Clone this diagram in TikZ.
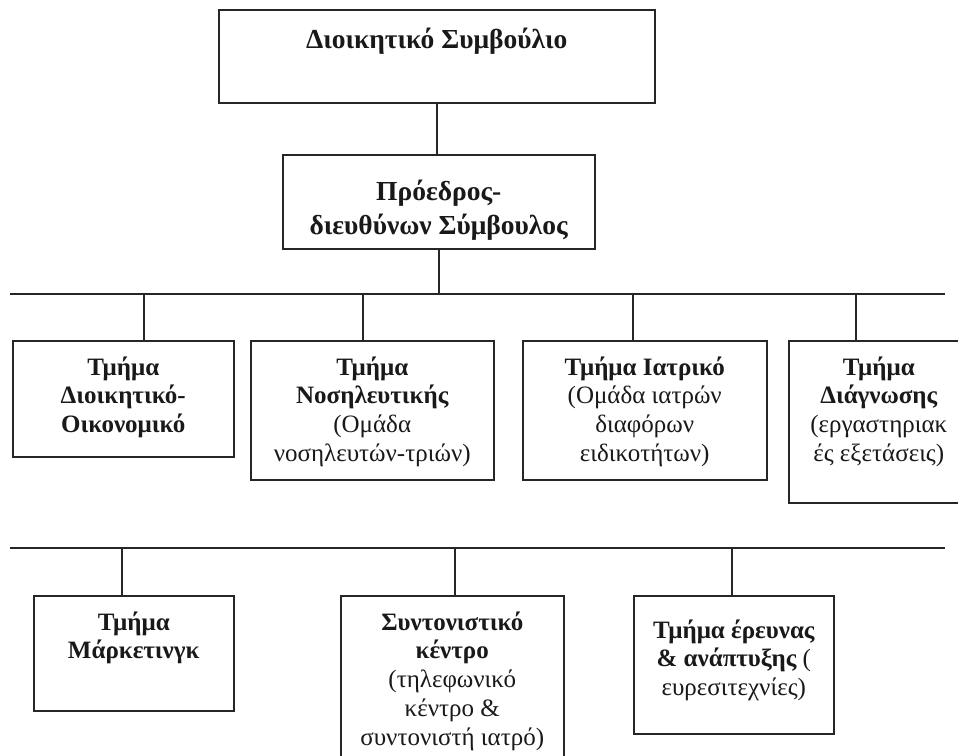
\documentclass[tikz,border=0pt]{standalone}
\usepackage{fontspec}
\setmainfont{Liberation Serif}
\newcommand{\fl}{\rule{0pt}{20pt}}
\newcommand{\flb}{\rule{0pt}{24pt}}
\tikzset{
  frame/.style={draw=black!85, line width=1.5pt, anchor=north west, inner sep=0pt},
  conn/.style={draw=black!85, line width=1.5pt},
  rowtxt/.style={anchor=north, inner sep=0pt, align=center, text=black!90, font=\fontsize{25}{28.7}\selectfont},
  toptxt/.style={anchor=north, inner sep=0pt, align=center, text=black!90, font=\fontsize{27.5}{34}\selectfont\bfseries},
}
\begin{document}
\begin{tikzpicture}[x=1pt,y=-1pt]
\clip (0,0) rectangle (958,755);
\fill[white] (0,0) rectangle (958,755);
% top
\node[frame, minimum width=436pt, minimum height=93pt] (board) at (218,9) {};
\node[toptxt] (boardt) at ([yshift=-15pt]board.north) {\flb Διοικητικό Συμβούλιο};
\node[frame, minimum width=312pt, minimum height=94pt] (ceo) at (282,154) {};
\node[toptxt] (ceot) at ([yshift=-22pt]ceo.north) {\flb Πρόεδρος-\\διευθύνων Σύμβουλος};
% bus 1
\coordinate (bus1l) at (10,294);
\coordinate (bus1r) at (945,294);
\coordinate (bus1c) at (ceo.south |- bus1l);
\draw[conn] (board.south) -- (board.south |- ceo.north);
\draw[conn] (ceo.south) -- (bus1c);
\draw[conn] (bus1l) -- (bus1r);
% row 1
\node[frame, minimum width=221pt, minimum height=116pt] (adm) at (12,340) {};
\node[rowtxt] (admt) at ([yshift=-15pt]adm.north) {\fl\bfseries Τμήμα\\\bfseries Διοικητικό-\\\bfseries Οικονομικό};
\node[frame, minimum width=243pt, minimum height=139pt] (nur) at (250,340) {};
\node[rowtxt] (nurt) at ([yshift=-15pt]nur.north) {\fl\bfseries Τμήμα\\\bfseries Νοσηλευτικής\\(Ομάδα\\νοσηλευτών-τριών)};
\node[frame, minimum width=244pt, minimum height=139pt] (med) at (522,340) {};
\node[rowtxt] (medt) at ([yshift=-15pt]med.north) {\fl\bfseries Τμήμα Ιατρικό\\(Ομάδα ιατρών\\διαφόρων\\ειδικοτήτων)};
\node[frame, minimum width=180pt, minimum height=162pt] (dia) at (788,340) {};
\node[rowtxt] (diat) at ([yshift=-15pt]dia.north) {\fl\bfseries Τμήμα\\\bfseries Διάγνωσης\\(εργαστηριακ\\ές εξετάσεις)};
\coordinate (d1) at (144,294);
\coordinate (d2) at (363,294);
\coordinate (d3) at (633,294);
\coordinate (d4) at (856,294);
\draw[conn] (d1) -- (d1 |- adm.north);
\draw[conn] (d2) -- (d2 |- nur.north);
\draw[conn] (d3) -- (d3 |- med.north);
\draw[conn] (d4) -- (d4 |- dia.north);
% bus 2
\coordinate (bus2l) at (10,548);
\coordinate (bus2r) at (945,548);
\draw[conn] (bus2l) -- (bus2r);
\node[frame, minimum width=200pt, minimum height=115pt] (mkt) at (33,595) {};
\node[rowtxt] (mktt) at ([yshift=-15pt]mkt.north) {\fl\bfseries Τμήμα\\\bfseries Μάρκετινγκ};
\node[frame, minimum width=223pt, minimum height=190pt] (coo) at (340,595) {};
\node[rowtxt] (coot) at ([yshift=-15pt]coo.north) {\fl\bfseries Συντονιστικό\\\bfseries κέντρο\\(τηλεφωνικό\\κέντρο \&\\συντονιστή ιατρό)};
\node[frame, minimum width=200pt, minimum height=138pt] (rnd) at (633,595) {};
\node[rowtxt] (rndt) at ([yshift=-23pt]rnd.north) {\fl\bfseries Τμήμα έρευνας\\{\bfseries \& ανάπτυξης} (\\ευρεσιτεχνίες)};
\coordinate (e1) at (122,548);
\coordinate (e2) at (455,548);
\coordinate (e3) at (732,548);
\draw[conn] (e1) -- (e1 |- mkt.north);
\draw[conn] (e2) -- (e2 |- coo.north);
\draw[conn] (e3) -- (e3 |- rnd.north);
\end{tikzpicture}
\end{document}
